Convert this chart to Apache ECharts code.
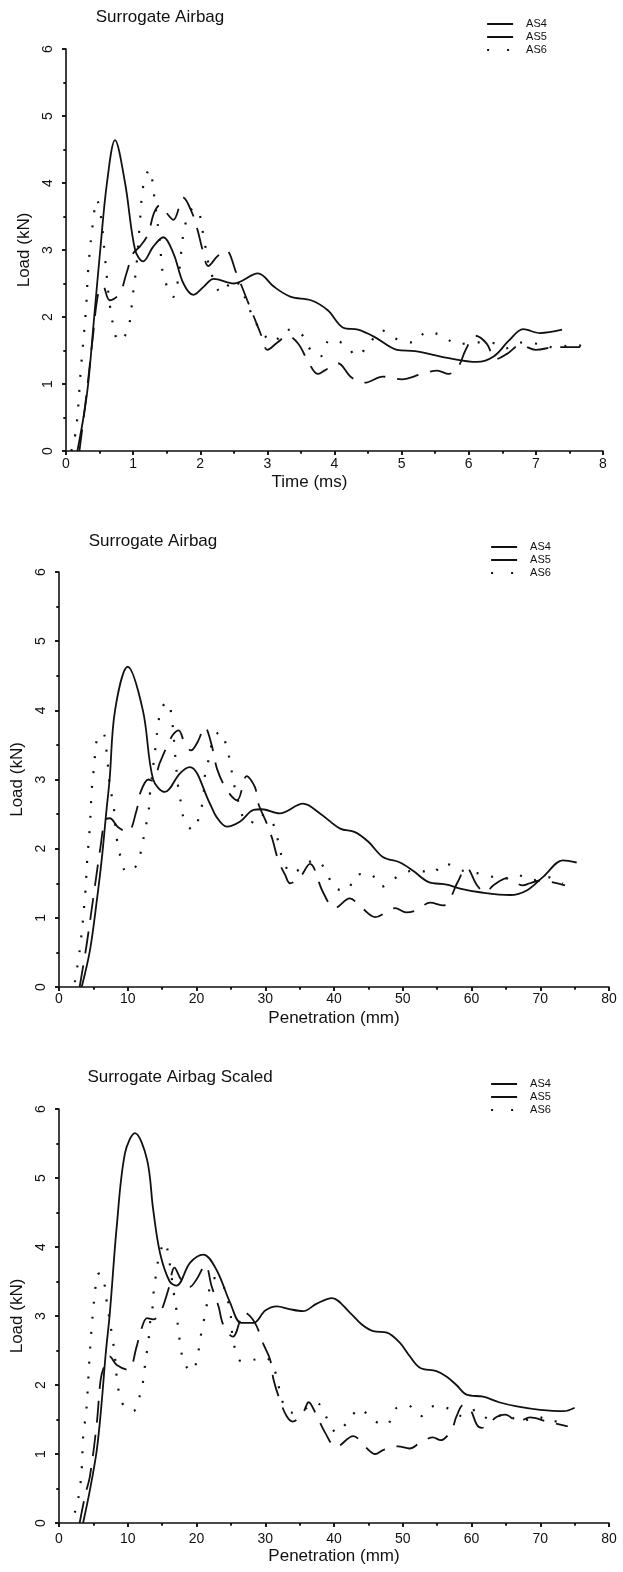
<!DOCTYPE html>
<html>
<head>
<meta charset="utf-8">
<script src="https://cdn.jsdelivr.net/npm/echarts@6/dist/echarts.min.js"></script>
<style>
  html, body { margin: 0; padding: 0; background: #ffffff; }
  #chart { width: 623px; height: 1572px; }
</style>
</head>
<body>
<div id="chart"></div>
<script>
// Load histories of the three surrogate airbag tests (AS4, AS5, AS6).
// Each point is [x, load in kN].
const seriesNames = ['AS4', 'AS5', 'AS6'];

// Load vs time (ms)
const as4Time = [[0.17,0],[0.26,0.5],[0.33,1.0],[0.42,2.0],[0.51,3.0],[0.61,4.0],[0.73,4.64],[0.88,4.0],[1.03,3.0],[1.15,2.83],[1.3,3.05],[1.45,3.19],[1.6,2.95],[1.75,2.5],[1.9,2.33],[2.05,2.45],[2.2,2.57],[2.5,2.5],[2.86,2.65],[3.1,2.45],[3.35,2.3],[3.65,2.25],[3.9,2.1],[4.13,1.84],[4.35,1.81],[4.6,1.7],[4.93,1.51],[5.2,1.49],[5.68,1.39],[6.12,1.33],[6.37,1.41],[6.6,1.65],[6.81,1.82],[7.06,1.76],[7.39,1.81]];
const as5Time = [[0.2,0],[0.3,0.8],[0.4,1.7],[0.48,2.35],[0.55,2.46],[0.65,2.25],[0.8,2.35],[0.9,2.65],[1.0,2.95],[1.1,3.05],[1.22,3.23],[1.31,3.55],[1.4,3.67],[1.5,3.55],[1.6,3.45],[1.75,3.78],[1.88,3.55],[1.96,3.3],[2.03,3.02],[2.12,2.76],[2.25,2.9],[2.38,3.0],[2.54,2.65],[2.7,2.25],[2.8,2.0],[2.9,1.75],[3.0,1.51],[3.15,1.62],[3.3,1.72],[3.46,1.6],[3.6,1.35],[3.75,1.15],[3.85,1.2],[4.05,1.31],[4.25,1.1],[4.45,1.02],[4.72,1.11],[5.0,1.07],[5.3,1.15],[5.53,1.2],[5.7,1.15],[5.85,1.27],[5.95,1.5],[6.1,1.72],[6.27,1.6],[6.4,1.37],[6.57,1.45],[6.77,1.58],[7.0,1.51],[7.29,1.55],[7.66,1.55]];
const as6Time = [[0.08,0],[0.15,0.32],[0.22,1.2],[0.3,2.15],[0.33,2.7],[0.4,3.4],[0.46,3.75],[0.52,3.5],[0.58,2.9],[0.65,2.2],[0.72,1.8],[0.78,1.64],[0.86,1.7],[0.93,1.82],[1.0,2.36],[1.05,2.77],[1.1,3.4],[1.15,3.95],[1.24,4.2],[1.33,3.67],[1.4,3.1],[1.45,2.63],[1.6,2.3],[1.67,2.56],[1.77,3.35],[1.9,3.62],[1.97,3.6],[2.05,3.2],[2.15,2.7],[2.32,2.36],[2.5,2.56],[2.62,2.4],[2.74,2.1],[2.9,1.8],[3.09,1.63],[3.29,1.81],[3.5,1.75],[3.65,1.5],[3.79,1.41],[3.93,1.66],[4.16,1.59],[4.33,1.42],[4.53,1.62],[4.7,1.8],[4.93,1.67],[5.17,1.62],[5.38,1.78],[5.62,1.71],[5.84,1.59],[6.05,1.62],[6.32,1.62],[6.54,1.53],[6.8,1.62],[7.02,1.6],[7.32,1.54],[7.55,1.59],[7.81,1.53]];

// Load vs penetration (mm)
const as4Pen = [[3.3,0],[4.5,0.53],[5.5,1.25],[6.2,1.83],[6.9,2.55],[7.36,3.0],[8.15,4.0],[10.0,4.63],[12.2,4.0],[13.7,3.0],[15.4,2.82],[17.6,3.09],[19.05,3.18],[21.96,2.65],[22.9,2.46],[24.4,2.32],[26.3,2.39],[28.3,2.56],[29.5,2.57],[32.1,2.51],[35.5,2.65],[37.96,2.51],[40.9,2.29],[43.05,2.24],[45,2.1],[47.1,1.88],[49.6,1.8],[51.5,1.68],[53.7,1.52],[56.4,1.48],[58.5,1.42],[61.2,1.37],[65.6,1.33],[68.1,1.4],[70.5,1.6],[73.3,1.83],[75.3,1.8]];
const as5Pen = [[3.0,0],[4.0,0.6],[5.0,1.3],[6.0,2.0],[6.7,2.41],[7.4,2.44],[8.6,2.31],[10.0,2.24],[11.3,2.56],[11.8,2.8],[13.0,3.0],[13.6,2.98],[14.7,3.25],[15.8,3.5],[16.6,3.65],[17.4,3.71],[18.3,3.52],[19.2,3.42],[20.2,3.55],[21.2,3.76],[22.2,3.5],[23.0,3.15],[24.4,2.85],[25.9,2.7],[27.3,3.05],[28.5,2.89],[29.0,2.65],[30.2,2.37],[31.0,2.15],[31.9,1.83],[32.9,1.62],[33.6,1.5],[35,1.58],[36.5,1.78],[38.4,1.37],[40.1,1.14],[42.3,1.28],[44,1.15],[46,1.01],[48.9,1.14],[50.5,1.08],[52,1.11],[54,1.22],[55.9,1.18],[56.9,1.28],[57.9,1.5],[59.3,1.72],[60.8,1.47],[62,1.37],[63.2,1.47],[65.1,1.57],[67.5,1.47],[68.5,1.5],[70,1.54],[73.6,1.47]];
const as6Pen = [[2.3,0.07],[3.05,0.56],[3.8,1.33],[4.1,1.83],[4.5,2.34],[4.76,2.85],[5.0,3.09],[5.24,3.35],[5.6,3.6],[6.4,3.67],[6.9,3.42],[7.4,2.9],[7.9,2.65],[8.4,2.15],[8.9,1.9],[9.85,1.66],[11.3,1.76],[12.0,2.0],[12.5,2.27],[13.0,2.51],[13.2,2.77],[14.1,3.52],[14.4,3.78],[14.9,4.03],[15.8,4.12],[16.4,3.89],[16.9,3.35],[17.3,2.92],[17.8,2.63],[18.3,2.39],[19.5,2.27],[20.5,2.51],[21.0,2.75],[21.2,3.04],[21.7,3.26],[22.5,3.6],[23.4,3.69],[24.4,3.47],[24.9,3.24],[25.4,2.96],[25.9,2.75],[26.8,2.45],[27.8,2.36],[29.0,2.5],[30.2,2.46],[31.1,2.37],[31.9,2.1],[32.6,1.83],[33.9,1.64],[36,1.79],[37.5,1.83],[38.9,1.66],[40.1,1.43],[41.8,1.4],[43.3,1.62],[45.2,1.64],[46.9,1.45],[48.8,1.57],[50.5,1.66],[52.2,1.69],[54.2,1.64],[56.1,1.79],[58,1.7],[60.0,1.66],[62.2,1.62],[64.4,1.56],[66.6,1.62],[68.8,1.54],[71,1.59],[73.3,1.5]];

// Scaled load vs penetration (mm)
const as4Scaled = [[3.5,0],[4.5,0.48],[5.5,1.06],[6.2,1.74],[6.8,2.46],[7.4,3.05],[8.4,4.3],[9.6,5.36],[11.05,5.65],[12.8,5.27],[13.7,4.54],[14.7,3.91],[16.1,3.5],[17.1,3.44],[19.05,3.77],[21.0,3.89],[22.9,3.67],[24.9,3.19],[26.5,2.9],[28.3,2.9],[30,3.08],[31.7,3.14],[33.5,3.1],[35.5,3.07],[37.5,3.18],[39.7,3.26],[42.3,3.05],[44,2.88],[45.7,2.78],[47.7,2.76],[49.6,2.61],[51,2.42],[52.5,2.25],[54.9,2.2],[56.4,2.12],[57.8,2.0],[59.3,1.86],[61.7,1.83],[64,1.75],[66.6,1.69],[70.0,1.64],[73.4,1.62],[75.0,1.67]];
const as5Scaled = [[3.0,0],[3.8,0.4],[4.5,0.68],[5.5,1.45],[6.0,2.03],[6.4,2.22],[7.4,2.41],[8.4,2.29],[10.1,2.22],[11.3,2.56],[11.8,2.75],[12.8,2.97],[13.7,2.95],[14.7,3.04],[15.9,3.38],[16.8,3.7],[17.8,3.52],[19,3.42],[20,3.53],[21.3,3.74],[22.2,3.43],[23.2,3.14],[23.9,2.87],[25.3,2.7],[27,3.05],[28.5,2.9],[29.7,2.6],[30.7,2.37],[31.2,2.08],[32.1,1.79],[33.1,1.55],[34,1.47],[35.5,1.6],[36.3,1.75],[37.5,1.55],[38.7,1.31],[40.3,1.1],[42.8,1.26],[44.5,1.11],[46,1.0],[47.2,1.06],[49.3,1.11],[51,1.08],[52.5,1.16],[54.4,1.24],[55.5,1.2],[57.1,1.35],[57.8,1.54],[58.8,1.71],[59.8,1.65],[60.8,1.42],[61.5,1.38],[63.7,1.54],[64.9,1.57],[66.8,1.47],[68.5,1.53],[71,1.47],[74,1.4]];
const as6Scaled = [[2.3,0.15],[2.67,0.29],[3.05,0.51],[3.3,0.77],[3.55,1.31],[3.9,1.55],[4.1,1.81],[4.26,2.08],[4.4,2.33],[4.76,2.85],[5.0,3.12],[5.24,3.36],[5.6,3.6],[6.0,3.62],[6.55,3.49],[6.9,3.24],[7.7,2.73],[8.05,2.49],[8.6,1.96],[9.35,1.71],[10.8,1.62],[11.8,1.86],[12.3,2.1],[12.6,2.37],[13.0,2.62],[13.2,2.87],[13.6,3.12],[13.8,3.38],[14.2,3.65],[14.6,3.89],[15.4,4.07],[16.0,3.82],[16.7,3.33],[17.1,3.07],[17.35,2.8],[17.7,2.56],[18.2,2.31],[19.4,2.2],[20.2,2.45],[20.6,2.7],[21.1,2.95],[21.6,3.21],[22.4,3.55],[23.4,3.53],[24.8,3.12],[25.4,2.61],[26.6,2.34],[28.5,2.37],[30,2.4],[31.4,2.2],[32.0,1.96],[32.6,1.74],[33.8,1.6],[35.5,1.64],[37.5,1.74],[38.9,1.53],[40.4,1.31],[42.0,1.47],[43.8,1.66],[45.5,1.5],[47.6,1.42],[49.0,1.66],[50.8,1.7],[52.7,1.55],[54.7,1.7],[56.6,1.66],[58.6,1.55],[60.6,1.64],[62.7,1.5],[64.9,1.58],[67.1,1.47],[69.5,1.54],[71.9,1.47],[74.0,1.53]];

// Axis ranges and tick spacing
const loadRange = [0, 6];
const loadStep = 1;
const timeRange = [0, 8];
const timeStep = 1;
const penRange = [0, 80];
const penStep = 10;

const titles = ['Surrogate Airbag', 'Surrogate Airbag', 'Surrogate Airbag Scaled'];
const xNames = ['Time (ms)', 'Penetration (mm)', 'Penetration (mm)'];
const yName = 'Load (kN)';

const FONT = "'Liberation Sans Narrow','Arial Narrow','Liberation Sans',Arial,sans-serif";
const INK = '#111111';

// Page layout of the three stacked panels
const panels = [
  { data: [as4Time, as5Time, as6Time], range: timeRange, step: timeStep,
    grid: { left: 66, top: 49, width: 537, height: 402 },
    title: { x: 160, y: 9 }, legend: { x: 486, y: 18 },
    xNameGap: 23, xNamePad: [0, 50, 0, 0], labelMargin: 6 },
  { data: [as4Pen, as5Pen, as6Pen], range: penRange, step: penStep,
    grid: { left: 59, top: 572, width: 550, height: 415 },
    title: { x: 153, y: 533 }, legend: { x: 490, y: 541 },
    xNameGap: 23, xNamePad: [0, 0, 0, 0], labelMargin: 5 },
  { data: [as4Scaled, as5Scaled, as6Scaled], range: penRange, step: penStep,
    grid: { left: 59, top: 1109, width: 550, height: 414 },
    title: { x: 180, y: 1069 }, legend: { x: 490, y: 1078 },
    xNameGap: 25, xNamePad: [0, 0, 0, 0], labelMargin: 9 }
];

const lineStyles = [
  { type: 'solid', width: 1.8 },
  { type: [22, 12], width: 1.8 },
  { type: [2, 13], width: 2.2 }
];
const legendStyles = [
  { type: 'solid', width: 2 },
  { type: 'solid', width: 2 },
  { type: [2, 18], width: 2.2 }
];

const axisLine = { show: true, onZero: false, lineStyle: { color: INK, width: 1.6 } };
const labelText = { color: INK, fontFamily: FONT, fontSize: 14 };

const option = {
  backgroundColor: '#ffffff',
  animation: false,
  textStyle: { fontFamily: FONT, color: INK },
  title: [], legend: [], grid: [], xAxis: [], yAxis: [], series: []
};

panels.forEach((p, i) => {
  option.grid.push(p.grid);

  option.title.push({
    text: titles[i], left: p.title.x, top: p.title.y, padding: 0,
    textAlign: 'center',
    textStyle: { fontFamily: FONT, fontSize: 17, fontWeight: 'normal', color: INK }
  });

  // legend key: line sample only, no point marker
  option.legend.push({
    orient: 'vertical', left: p.legend.x, top: p.legend.y, padding: 0,
    itemWidth: 26, itemHeight: 12, itemGap: 1,
    selectedMode: false,
    textStyle: { fontFamily: FONT, fontSize: 11, lineHeight: 12, color: INK, padding: [0, 0, 0, 8] },
    data: seriesNames.map((n, k) => ({
      name: n,
      lineStyle: Object.assign({ color: INK }, legendStyles[k]),
      itemStyle: { color: 'rgba(0,0,0,0)', borderWidth: 0, opacity: 0 }
    }))
  });

  const common = { gridIndex: i, type: 'value' };
  // main x axis: line, outward ticks, labels, name
  option.xAxis.push(Object.assign({}, common, {
    min: p.range[0], max: p.range[1], interval: p.step,
    name: xNames[i], nameLocation: 'middle', nameGap: p.xNameGap,
    nameTextStyle: { fontFamily: FONT, fontSize: 17, color: INK, padding: p.xNamePad },
    axisLine: axisLine,
    axisTick: { show: true, inside: false, length: 4, lineStyle: { color: INK, width: 1.6 } },
    minorTick: { show: true, splitNumber: 2, length: 2.5, lineStyle: { color: INK, width: 1.6 } },
    axisLabel: Object.assign({ margin: p.labelMargin, showMinLabel: true, showMaxLabel: true }, labelText),
    splitLine: { show: false }, minorSplitLine: { show: false }
  }));
  // companion x axis: inward halves of the crossing ticks
  option.xAxis.push(Object.assign({}, common, {
    min: p.range[0], max: p.range[1], interval: p.step,
    axisLine: { show: false },
    axisTick: { show: true, inside: true, length: 4, lineStyle: { color: INK, width: 1.6 } },
    minorTick: { show: true, splitNumber: 2, length: 2.5, lineStyle: { color: INK, width: 1.6 } },
    axisLabel: { show: false }, splitLine: { show: false }, minorSplitLine: { show: false }
  }));

  option.yAxis.push(Object.assign({}, common, {
    min: loadRange[0], max: loadRange[1], interval: loadStep,
    name: yName, nameLocation: 'middle', nameGap: 31, nameRotate: 90,
    nameTextStyle: { fontFamily: FONT, fontSize: 17, color: INK },
    axisLine: axisLine,
    axisTick: { show: true, inside: false, length: 4, lineStyle: { color: INK, width: 1.6 } },
    minorTick: { show: true, splitNumber: 2, length: 2.5, lineStyle: { color: INK, width: 1.6 } },
    axisLabel: Object.assign({ margin: 11, rotate: 90, showMinLabel: true, showMaxLabel: true }, labelText),
    splitLine: { show: false }, minorSplitLine: { show: false }
  }));
  option.yAxis.push(Object.assign({}, common, {
    min: loadRange[0], max: loadRange[1], interval: loadStep,
    axisLine: { show: false },
    axisTick: { show: true, inside: true, length: 4, lineStyle: { color: INK, width: 1.6 } },
    minorTick: { show: true, splitNumber: 2, length: 2.5, lineStyle: { color: INK, width: 1.6 } },
    axisLabel: { show: false }, splitLine: { show: false }, minorSplitLine: { show: false }
  }));

  p.data.forEach((d, k) => {
    option.series.push({
      type: 'line', name: seriesNames[k], data: d,
      xAxisIndex: i * 2, yAxisIndex: i * 2,
      smooth: 0.35, symbol: 'none', silent: true,
      lineStyle: Object.assign({ color: INK }, lineStyles[k]),
      itemStyle: { color: INK }
    });
  });
});

const chart = echarts.init(document.getElementById('chart'), null, { renderer: 'canvas' });
chart.setOption(option);
</script>
</body>
</html>
